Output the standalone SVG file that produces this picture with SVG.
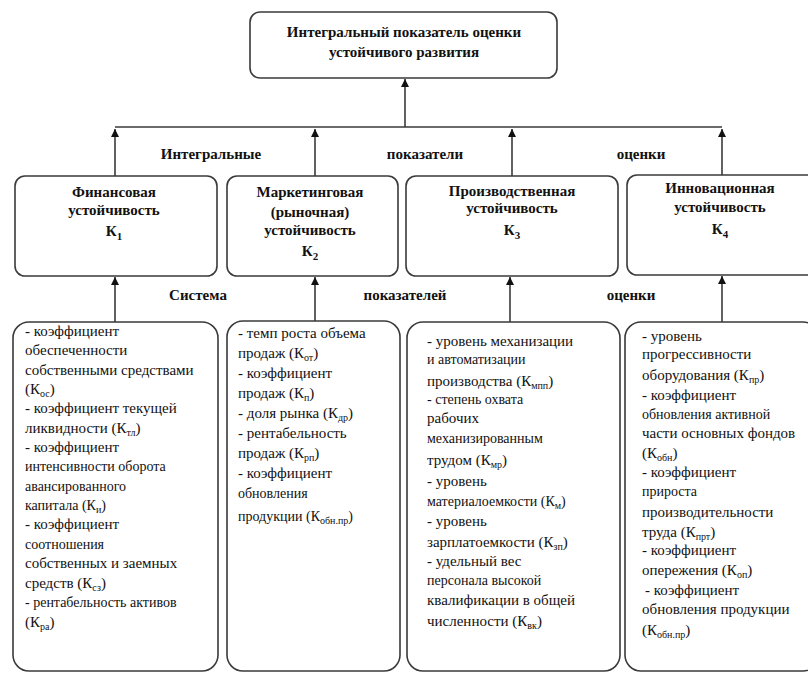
<svg xmlns="http://www.w3.org/2000/svg" width="808" height="673" viewBox="0 0 808 673">
<style>
.box{fill:#fff;stroke:#3a3a3a;stroke-width:1.6}
.hd{font-family:"Liberation Serif","Times New Roman",Tinos,"Noto Serif","DejaVu Serif",FreeSerif,serif;font-weight:bold;font-size:15px;fill:#111;text-anchor:middle}
.tx{font-family:"Liberation Serif","Times New Roman",Tinos,"Noto Serif","DejaVu Serif",FreeSerif,serif;font-size:15px;fill:#111}
.sm{font-size:14px}
.sub{font-size:10px;baseline-shift:-3px}
.hsub{font-size:11px;baseline-shift:-4px}
.ln{stroke:#3a3a3a;stroke-width:1.6;fill:none}
</style>
<defs>
<marker id="ah" viewBox="0 0 10 10" refX="10" refY="5" markerUnits="userSpaceOnUse" markerWidth="9" markerHeight="8" orient="auto">
<path d="M0,0 L10,5 L0,10 z" fill="#111"/>
</marker>
</defs>

<g id="connectors">
<line class="ln" x1="405" y1="127" x2="405" y2="79" marker-end="url(#ah)"/>
<line class="ln" x1="115" y1="127" x2="722" y2="127"/>
<line class="ln" x1="115" y1="176" x2="115" y2="129" marker-end="url(#ah)"/>
<line class="ln" x1="315" y1="176" x2="315" y2="129" marker-end="url(#ah)"/>
<line class="ln" x1="512" y1="176" x2="512" y2="129" marker-end="url(#ah)"/>
<line class="ln" x1="722" y1="175" x2="722" y2="129" marker-end="url(#ah)"/>
<line class="ln" x1="115" y1="322" x2="115" y2="277" marker-end="url(#ah)"/>
<line class="ln" x1="315" y1="321" x2="315" y2="277" marker-end="url(#ah)"/>
<line class="ln" x1="510" y1="322" x2="510" y2="277" marker-end="url(#ah)"/>
<line class="ln" x1="722" y1="322" x2="722" y2="276" marker-end="url(#ah)"/>
</g>

<g id="labels">
<text class="hd" x="211" y="159">Интегральные</text>
<text class="hd" x="425" y="159">показатели</text>
<text class="hd" x="641" y="159">оценки</text>
<text class="hd" x="198" y="300">Система</text>
<text class="hd" x="405" y="300">показателей</text>
<text class="hd" x="631" y="300">оценки</text>
</g>

<g id="top">
<rect class="box" x="250" y="12" width="307" height="66" rx="10"/>
<text class="hd" x="404" y="37">Интегральный показатель оценки</text>
<text class="hd" x="404" y="57">устойчивого развития</text>
</g>

<g id="k1">
<rect class="box" x="15" y="176" width="202" height="100" rx="10"/>
<text class="hd" x="114" y="197">Финансовая</text>
<text class="hd" x="114" y="215">устойчивость</text>
<text class="hd" x="114" y="236">К<tspan class="hsub">1</tspan></text>
</g>

<g id="k2">
<rect class="box" x="227" y="176" width="171" height="100" rx="10"/>
<text class="hd" x="310" y="197">Маркетинговая</text>
<text class="hd" x="310" y="217">(рыночная)</text>
<text class="hd" x="310" y="235">устойчивость</text>
<text class="hd" x="310" y="256">К<tspan class="hsub">2</tspan></text>
</g>

<g id="k3">
<rect class="box" x="406" y="176" width="212" height="100" rx="10"/>
<text class="hd" x="512" y="196">Производственная</text>
<text class="hd" x="512" y="213">устойчивость</text>
<text class="hd" x="512" y="235">К<tspan class="hsub">3</tspan></text>
</g>

<g id="k4">
<rect class="box" x="627" y="175" width="192" height="100" rx="10"/>
<text class="hd" x="720" y="193">Инновационная</text>
<text class="hd" x="720" y="212">устойчивость</text>
<text class="hd" x="720" y="234">К<tspan class="hsub">4</tspan></text>
</g>

<g id="list1">
<rect class="box" x="13" y="322" width="205" height="349" rx="16"/>
<text class="tx">
<tspan x="25" y="336">- коэффициент</tspan>
<tspan x="25" y="355">обеспеченности</tspan>
<tspan x="25" y="374.5">собственными средствами</tspan>
<tspan x="25" y="394">(К<tspan class="sub">ос</tspan>)</tspan>
<tspan x="25" y="413">- коэффициент текущей</tspan>
<tspan x="25" y="432.5">ликвидности (К<tspan class="sub">тл</tspan>)</tspan>
<tspan x="25" y="452">- коэффициент</tspan>
<tspan x="25" y="471" class="sm">интенсивности оборота</tspan>
<tspan x="25" y="490.5" class="sm">авансированного</tspan>
<tspan x="25" y="510" class="sm">капитала (К<tspan class="sub">и</tspan>)</tspan>
<tspan x="25" y="529">- коэффициент</tspan>
<tspan x="25" y="548.5" class="sm">соотношения</tspan>
<tspan x="25" y="568">собственных и заемных</tspan>
<tspan x="25" y="587.5">средств (К<tspan class="sub">сз</tspan>)</tspan>
<tspan x="25" y="607" class="sm">- рентабельность активов</tspan>
<tspan x="25" y="626.5">(К<tspan class="sub">ра</tspan>)</tspan>
</text>
</g>

<g id="list2">
<rect class="box" x="227" y="321" width="173" height="350" rx="16"/>
<text class="tx">
<tspan x="238" y="338">- темп роста объема</tspan>
<tspan x="238" y="358">продаж (К<tspan class="sub">от</tspan>)</tspan>
<tspan x="238" y="378">- коэффициент</tspan>
<tspan x="238" y="398">продаж (К<tspan class="sub">п</tspan>)</tspan>
<tspan x="238" y="418">- доля рынка (К<tspan class="sub">др</tspan>)</tspan>
<tspan x="238" y="438">- рентабельность</tspan>
<tspan x="238" y="458">продаж (К<tspan class="sub">рп</tspan>)</tspan>
<tspan x="238" y="478">- коэффициент</tspan>
<tspan x="238" y="498" class="sm">обновления</tspan>
<tspan x="238" y="521" class="sm">продукции (К<tspan class="sub">обн.пр</tspan>)</tspan>
</text>
</g>

<g id="list3">
<rect class="box" x="407" y="322" width="213" height="349" rx="16"/>
<text class="tx">
<tspan x="427" y="346">- уровень механизации</tspan>
<tspan x="427" y="364" class="sm">и автоматизации</tspan>
<tspan x="427" y="386">производства (К<tspan class="sub">мпп</tspan>)</tspan>
<tspan x="427" y="404" class="sm">- степень охвата</tspan>
<tspan x="427" y="423">рабочих</tspan>
<tspan x="427" y="443" class="sm">механизированным</tspan>
<tspan x="427" y="465">трудом (К<tspan class="sub">мр</tspan>)</tspan>
<tspan x="427" y="486">- уровень</tspan>
<tspan x="427" y="506" class="sm">материалоемкости (К<tspan class="sub">м</tspan>)</tspan>
<tspan x="427" y="526">- уровень</tspan>
<tspan x="427" y="547">зарплатоемкости (К<tspan class="sub">зп</tspan>)</tspan>
<tspan x="427" y="566">- удельный вес</tspan>
<tspan x="427" y="585" class="sm">персонала высокой</tspan>
<tspan x="427" y="605">квалификации в общей</tspan>
<tspan x="427" y="626">численности (К<tspan class="sub">вк</tspan>)</tspan>
</text>
</g>

<g id="list4">
<rect class="box" x="625" y="322" width="194" height="349" rx="16"/>
<text class="tx">
<tspan x="642" y="341">- уровень</tspan>
<tspan x="642" y="359">прогрессивности</tspan>
<tspan x="642" y="380">оборудования (К<tspan class="sub">пр</tspan>)</tspan>
<tspan x="642" y="400">- коэффициент</tspan>
<tspan x="642" y="419" class="sm">обновления активной</tspan>
<tspan x="642" y="438">части основных фондов</tspan>
<tspan x="642" y="458">(К<tspan class="sub">обн</tspan>)</tspan>
<tspan x="642" y="477">- коэффициент</tspan>
<tspan x="642" y="496" class="sm">прироста</tspan>
<tspan x="642" y="517">производительности</tspan>
<tspan x="642" y="537">труда (К<tspan class="sub">прт</tspan>)</tspan>
<tspan x="642" y="555">- коэффициент</tspan>
<tspan x="642" y="575">опережения (К<tspan class="sub">оп</tspan>)</tspan>
<tspan x="645" y="595">- коэффициент</tspan>
<tspan x="642" y="614">обновления продукции</tspan>
<tspan x="642" y="635">(К<tspan class="sub">обн.пр</tspan>)</tspan>
</text>
</g>
</svg>
